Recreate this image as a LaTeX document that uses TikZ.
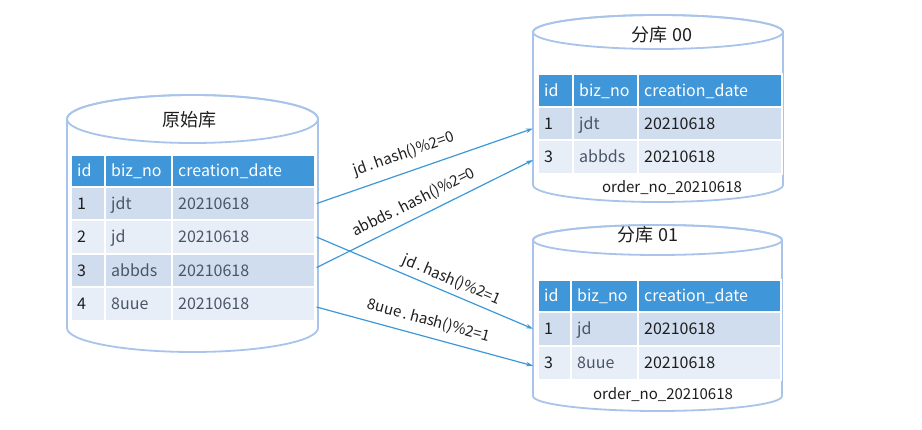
\documentclass[tikz,border=0pt]{standalone}
\usepackage{fontspec}
\setmainfont{Noto Sans CJK SC}
\usetikzlibrary{arrows.meta}
\definecolor{hdr}{HTML}{3F96D8}
\definecolor{rowa}{HTML}{CFDDEF}
\definecolor{rowb}{HTML}{E8EEF7}
\definecolor{cylc}{HTML}{A8C4EA}
\definecolor{arr}{HTML}{3D98D8}
\definecolor{gtxt}{HTML}{4A5568}
\definecolor{btxt}{HTML}{1E1E1E}
\tikzset{
  cylline/.style={draw=cylc, line width=1.8pt},
  cellbox/.style={draw=white, line width=1.6pt, anchor=north west, inner sep=0pt},
  celltext/.style={anchor=west, inner xsep=7pt, inner ysep=0pt, text height=11.5pt, text depth=0pt, font=\fontsize{16}{16}\selectfont},
  titletext/.style={font=\fontsize{18}{18}\selectfont, text=btxt},
  foottext/.style={font=\fontsize{15}{15}\selectfont, text=btxt},
  arrline/.style={draw=arr, line width=1.2pt, -{Stealth[length=7pt,width=4.5pt]}},
  lbl/.style={sloped, inner sep=0pt, text height=11pt, text depth=0pt, font=\fontsize{15}{15}\selectfont, text=btxt}
}
\newcommand\mycell[8]{%
  \node[cellbox, fill=#6, minimum width=#4pt, minimum height=#5pt] (#1) at (#2,#3) {};
  \node[celltext, text=#7] at (#1.west) {#8};}
\newcommand\mycyl[5]{%
  \draw[cylline, fill=white] ({#1-#2},#3) -- ({#1-#2},#4)
    arc[start angle=180, end angle=360, x radius=#2pt, y radius=#5pt] -- ({#1+#2},#3)
    arc[start angle=0, end angle=180, x radius=#2pt, y radius=#5pt] -- cycle;
  \draw[cylline] (#1,#3) ellipse [x radius=#2pt, y radius=#5pt];}
\newcommand\dt{\hspace{2.5pt}.\hspace{2.5pt}}
\begin{document}
\begin{tikzpicture}[x=1pt, y=-1pt]
\useasboundingbox (0,0) rectangle (922,430);
% ---------- left cylinder ----------
\mycyl{192.5}{125.5}{119}{328}{24}
\node[titletext] (Ltitle) at (189,120) {原始库};
\mycell{Lh1}{70}{154}{34}{32}{hdr}{white}{id}
\mycell{Lh2}{104}{154}{67}{32}{hdr}{white}{biz\_no}
\mycell{Lh3}{171}{154}{143}{32}{hdr}{white}{creation\_date}
\mycell{L1a}{70}{186}{34}{33.5}{rowa}{btxt}{1}
\mycell{L1b}{104}{186}{67}{33.5}{rowa}{gtxt}{jdt}
\mycell{L1c}{171}{186}{143}{33.5}{rowa}{gtxt}{20210618}
\mycell{L2a}{70}{219.5}{34}{33.5}{rowb}{btxt}{2}
\mycell{L2b}{104}{219.5}{67}{33.5}{rowb}{gtxt}{jd}
\mycell{L2c}{171}{219.5}{143}{33.5}{rowb}{gtxt}{20210618}
\mycell{L3a}{70}{253}{34}{33.5}{rowa}{btxt}{3}
\mycell{L3b}{104}{253}{67}{33.5}{rowa}{gtxt}{abbds}
\mycell{L3c}{171}{253}{143}{33.5}{rowa}{gtxt}{20210618}
\mycell{L4a}{70}{286.5}{34}{33.5}{rowb}{btxt}{4}
\mycell{L4b}{104}{286.5}{67}{33.5}{rowb}{gtxt}{8uue}
\mycell{L4c}{171}{286.5}{143}{33.5}{rowb}{gtxt}{20210618}
% ---------- right top cylinder ----------
\mycyl{658}{125}{32}{185}{17}
\node[titletext] (Atitle) at (662,35) {分库 00};
\mycell{Ah1}{537}{73}{35}{33}{hdr}{white}{id}
\mycell{Ah2}{572}{73}{65}{33}{hdr}{white}{biz\_no}
\mycell{Ah3}{637}{73}{144}{33}{hdr}{white}{creation\_date}
\mycell{A1a}{537}{106}{35}{33.5}{rowa}{btxt}{1}
\mycell{A1b}{572}{106}{65}{33.5}{rowa}{gtxt}{jdt}
\mycell{A1c}{637}{106}{144}{33.5}{rowa}{btxt}{20210618}
\mycell{A2a}{537}{139.5}{35}{33.5}{rowb}{btxt}{3}
\mycell{A2b}{572}{139.5}{65}{33.5}{rowb}{gtxt}{abbds}
\mycell{A2c}{637}{139.5}{144}{33.5}{rowb}{btxt}{20210618}
\node[foottext] (Afoot) at (672,188) {order\_no\_20210618};
% ---------- right bottom cylinder ----------
\mycyl{657.5}{124.5}{240}{396}{15}
\node[titletext] (Btitle) at (648,235) {分库 01};
\mycell{Bh1}{537}{279}{33}{32}{hdr}{white}{id}
\mycell{Bh2}{570}{279}{67}{32}{hdr}{white}{biz\_no}
\mycell{Bh3}{637}{279}{143}{32}{hdr}{white}{creation\_date}
\mycell{B1a}{537}{311}{33}{34}{rowa}{btxt}{1}
\mycell{B1b}{570}{311}{67}{34}{rowa}{gtxt}{jd}
\mycell{B1c}{637}{311}{143}{34}{rowa}{btxt}{20210618}
\mycell{B2a}{537}{345}{33}{34}{rowb}{btxt}{3}
\mycell{B2b}{570}{345}{67}{34}{rowb}{gtxt}{8uue}
\mycell{B2c}{637}{345}{143}{34}{rowb}{btxt}{20210618}
\node[foottext] (Bfoot) at (663,395) {order\_no\_20210618};
% ---------- arrows ----------
\draw[arrline] ([xshift=1pt]L1c.east) -- node[lbl, pos=.43, above=13pt] {jd\dt hash()\%2=0} ([xshift=-4pt,yshift=-5pt]A1a.west);
\draw[arrline] ([xshift=1pt,yshift=3pt]L3c.east) -- node[lbl, pos=.48, above=10pt] {abbds\dt hash()\%2=0} ([xshift=-4pt,yshift=-3pt]A2a.west);
\draw[arrline] ([xshift=1pt]L2c.east) -- node[lbl, pos=.6, above=8pt] {jd\dt hash()\%2=1} ([xshift=-4pt]B1a.west);
\draw[arrline] ([xshift=1pt,yshift=-3pt]L4c.east) -- node[lbl, pos=.5, above=11pt] {8uue\dt hash()\%2=1} ([xshift=-4pt,yshift=-3pt]B2a.west);
\end{tikzpicture}
\end{document}
